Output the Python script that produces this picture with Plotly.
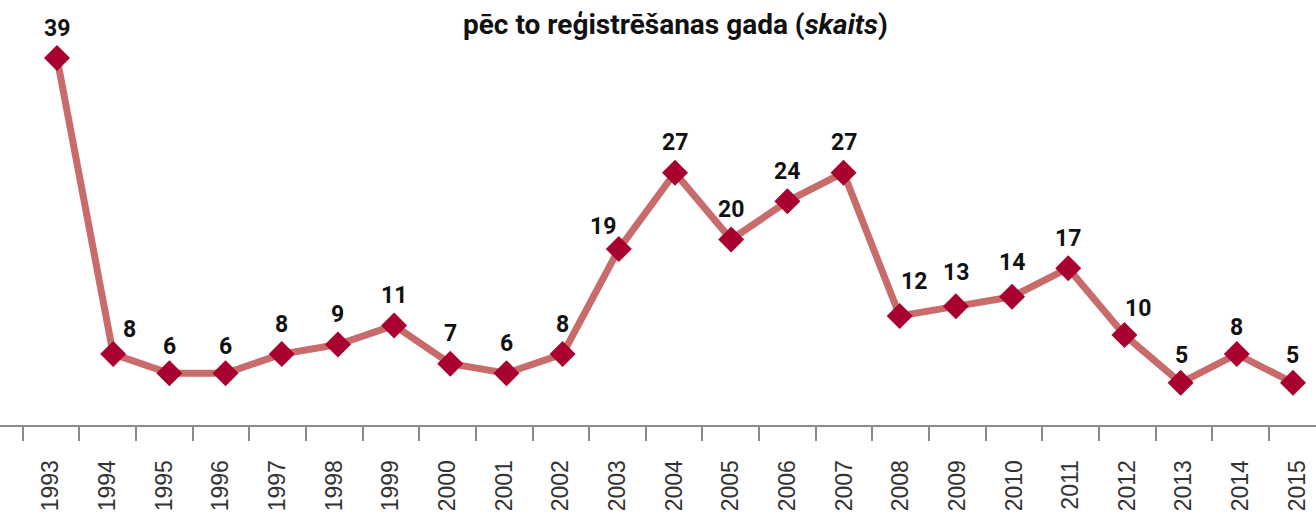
import plotly.graph_objects as go

# ---- data ----
years = [str(y) for y in range(1993, 2016)]
values = [39, 8, 6, 6, 8, 9, 11, 7, 6, 8, 19, 27, 20, 24, 27, 12, 13, 14, 17, 10, 5, 8, 5]
title_text = "<b>pēc to reģistrēšanas gada (<i>skaits</i>)</b>"

# ---- style ----
LINE_COLOR = "#c76b6b"
MARKER_COLOR = "#a8002f"
LABEL_FONT = dict(family="Roboto, Arial, sans-serif", size=23, color="#111111")
TICK_FONT = dict(family="Liberation Sans, Arial, sans-serif", size=23, color="#333333")

# label nudges (pixels): default sits ~30px above the marker
default_nudge = (0, 30)
label_nudge = {
    "1994": (16, 25), "1995": (0, 27), "1996": (0, 27), "2003": (-16, 23),
    "2008": (14, 34), "2009": (0, 34), "2010": (0, 34), "2012": (14, 27),
    "2013": (1, 27), "2014": (0, 27), "2015": (0, 27),
}

fig = go.Figure()

# invisible trace that carries the category axis with the tick labels
fig.add_trace(go.Scatter(
    x=years, y=values, xaxis="x", yaxis="y", mode="markers",
    marker=dict(opacity=0), hoverinfo="skip", showlegend=False,
))

# visible data series
fig.add_trace(go.Scatter(
    x=years, y=values, xaxis="x2", yaxis="y", mode="lines+markers",
    line=dict(color=LINE_COLOR, width=7),
    marker=dict(symbol="diamond", size=20, color=MARKER_COLOR),
    showlegend=False, cliponaxis=False,
))

for i, (yr, v) in enumerate(zip(years, values)):
    dx, dy = label_nudge.get(yr, default_nudge)
    fig.add_annotation(
        x=i, y=v, xref="x2", yref="y", text=f"<b>{v}</b>", showarrow=False,
        xshift=dx, yshift=dy, font=LABEL_FONT, xanchor="center", yanchor="middle",
    )

fig.add_annotation(
    x=675 / 1316, y=(425 - 24) / 425, xref="paper", yref="paper", text=title_text,
    showarrow=False, xanchor="center", yanchor="middle",
    font=dict(family="Roboto, Arial, sans-serif", size=28, color="#111111"),
)

fig.update_layout(
    width=1316, height=514,
    margin=dict(l=0, r=0, t=0, b=89, autoexpand=False),
    paper_bgcolor="white", plot_bgcolor="white",
    xaxis=dict(
        type="category", categoryorder="array", categoryarray=years,
        range=[-0.9007, 22.33], tickson="boundaries", ticks="outside",
        ticklen=14, tickwidth=2, tickcolor="#8a8a8a",
        showline=True, linecolor="#8a8a8a", linewidth=2,
        showgrid=False, zeroline=False, tickangle=-90, tickfont=TICK_FONT,
        ticklabelstandoff=24, automargin=False,
    ),
    xaxis2=dict(
        type="category", categoryorder="array", categoryarray=years,
        overlaying="x", range=[-1.015, 22.41], visible=False, automargin=False,
    ),
    yaxis=dict(range=[0.576, 45.08], visible=False, showgrid=False,
               zeroline=False, automargin=False),
)

fig.write_html("out.html", config={"displayModeBar": False},
               post_script="document.body.style.margin='0px';")
